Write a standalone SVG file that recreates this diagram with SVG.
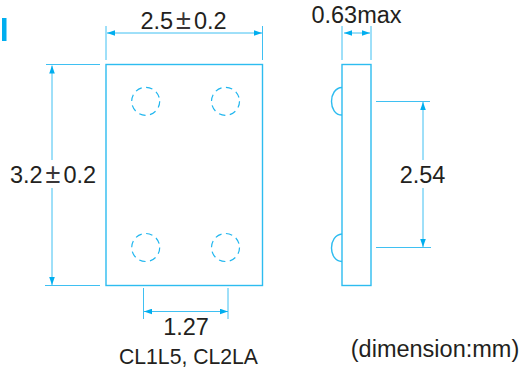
<svg xmlns="http://www.w3.org/2000/svg" width="522" height="369" viewBox="0 0 522 369">
<defs>
<marker id="arrow" markerUnits="userSpaceOnUse" markerWidth="8" markerHeight="6" refX="8" refY="3" orient="auto"><path d="M0 0.200L8 3L0 5.800Z" fill="#00aeef"/></marker>
<marker id="arrow-start" markerUnits="userSpaceOnUse" markerWidth="8" markerHeight="6" refX="0" refY="3" orient="auto"><path d="M8 0.200L0 3L8 5.800Z" fill="#00aeef"/></marker>
</defs>
<style>
.body{fill:none;stroke:#2dbcf0;stroke-width:1.4}
.thin{fill:none;stroke:#3fc0f2;stroke-width:1}
.dim{fill:none;stroke:#3fc0f2;stroke-width:1;marker-start:url(#arrow-start);marker-end:url(#arrow)}
.end{fill:none;stroke:#3fc0f2;stroke-width:1;marker-end:url(#arrow)}
.pad{fill:none;stroke:#1fb6ef;stroke-width:1.200;stroke-dasharray:6.500 4.500}
text{font-family:"Liberation Sans",Arial,sans-serif;fill:#231f20;font-size:23.500px;text-anchor:middle}
.small{font-size:21.200px}
.pm{font-size:27px;fill:#3a3637}
</style>
<rect id="marker-bar" x="2" y="18" width="4.500" height="23" fill="#00aeef"/>
<g id="front-view">
<rect class="body" x="106" y="64.500" width="156.500" height="221"/>
<circle class="pad" cx="145.700" cy="101.300" r="14"/>
<circle class="pad" cx="225.500" cy="101.300" r="14"/>
<circle class="pad" cx="145.700" cy="247.500" r="14"/>
<circle class="pad" cx="225.500" cy="247.500" r="14"/>
</g>
<g id="side-view">
<rect class="body" x="342" y="64.500" width="29" height="221"/>
<path class="body" d="M342 87.500C328 88 328 115 342 115"/>
<path class="body" d="M342 234C328 235 328 261 342 261.500"/>
</g>
<g id="connectors">
<path class="thin" d="M106 26V60M262.500 26V60M46 64.500H100M45 285.500H100M143.500 288V319M228 288V319M342 26V60M371 26V60M376 101.500H430M376 247.500H431"/>
<path class="dim" d="M107 33H262"/>
<path class="end" d="M52 160V65.500"/>
<path class="end" d="M52 188V285"/>
<path class="dim" d="M144 311.500H228"/>
<path class="dim" d="M344 33H370"/>
<path class="end" d="M423 160V102"/>
<path class="end" d="M423 188V247"/>
</g>
<g id="labels">
<text x="183.500" y="29.300">2.5<tspan class="pm" dx="3">±</tspan><tspan dx="3">0.2</tspan></text>
<text x="53" y="183">3.2<tspan class="pm" dx="3">±</tspan><tspan dx="3">0.2</tspan></text>
<text x="186" y="335">1.27</text>
<text class="small" x="188.500" y="364">CL1L5, CL2LA</text>
<text x="356.500" y="23">0.63max</text>
<text x="422.500" y="183">2.54</text>
<text x="435" y="356.700">(dimension:mm)</text>
</g>
</svg>
